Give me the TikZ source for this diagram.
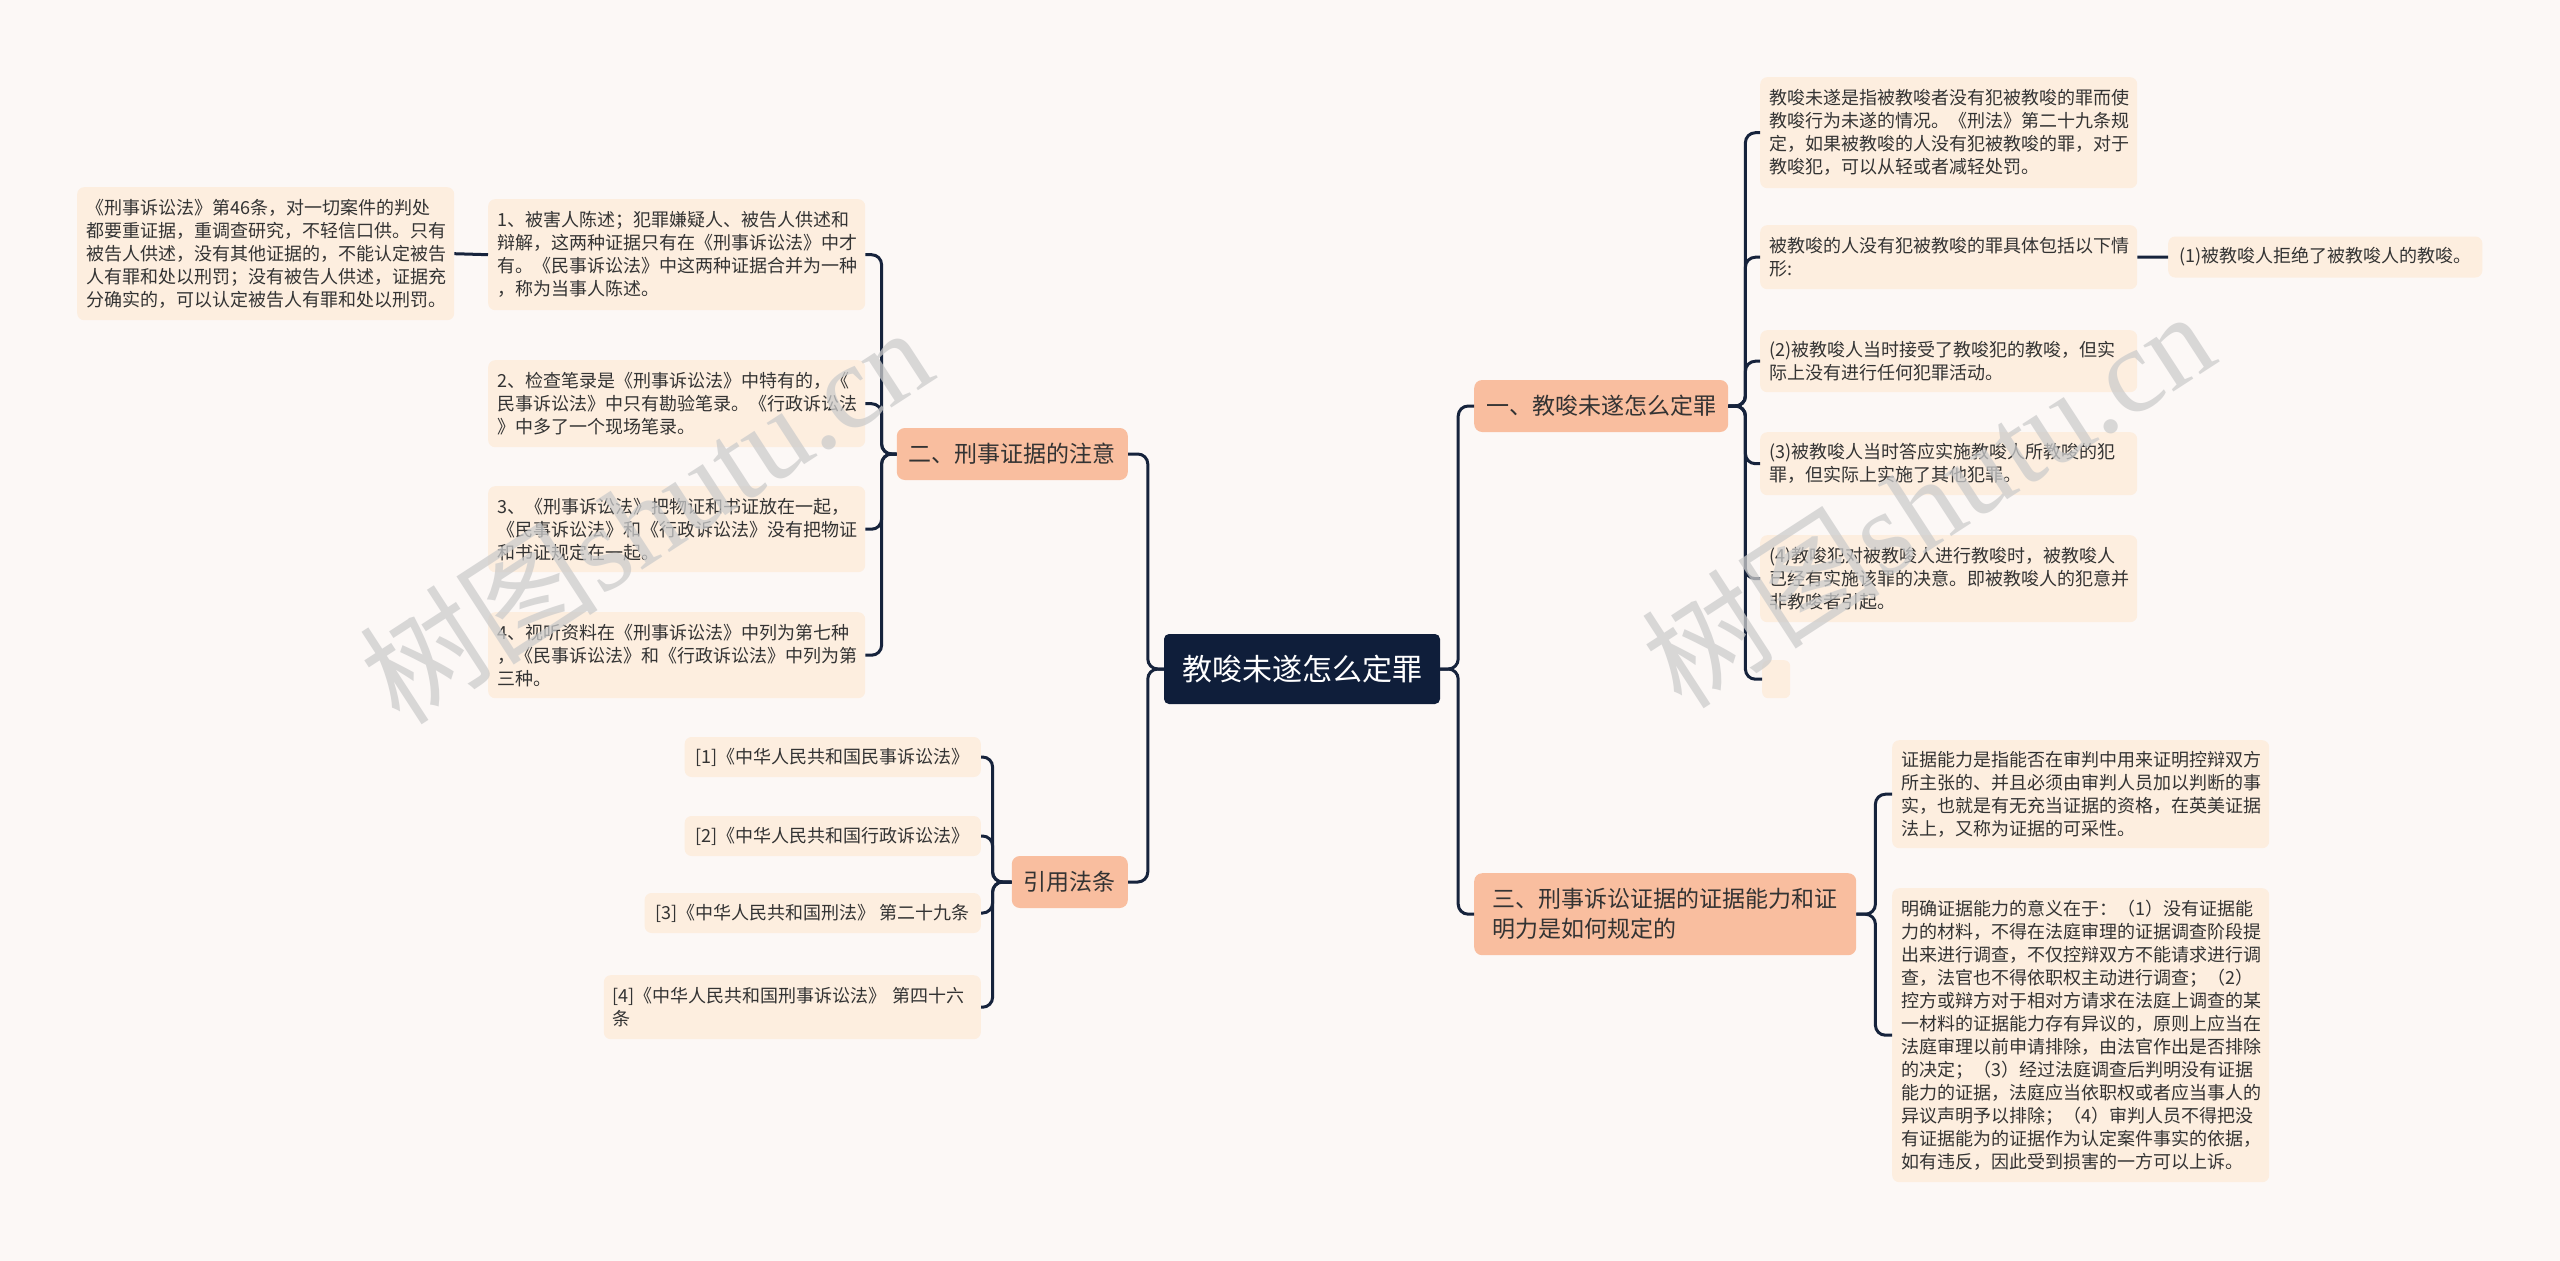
\documentclass[tikz,border=0pt]{standalone}
\usepackage{fontspec}
\setmainfont{Noto Sans CJK SC}
\newfontfamily\wmlatin{Liberation Serif}
\definecolor{bgc}{HTML}{FCF8F6}
\definecolor{leafc}{HTML}{FDEEDF}
\definecolor{brc}{HTML}{F9BE9F}
\definecolor{rootc}{HTML}{0F1E3A}
\definecolor{linec}{HTML}{16233C}
\definecolor{txtc}{HTML}{333333}
\begin{document}
\begin{tikzpicture}[x=1pt,y=-1pt,
 leaf/.style={fill=leafc, rounded corners=7pt, inner xsep=9pt, inner ysep=0pt, text width=359pt, align=left, text=txtc, font=\fontsize{18pt}{23pt}\selectfont, anchor=north west},
 refbox/.style={fill=leafc, rounded corners=7pt, inner xsep=11pt, inner ysep=0pt, minimum height=40pt, text=txtc, font=\fontsize{18pt}{23pt}\selectfont, anchor=east},
 branch/.style={fill=brc, rounded corners=8pt, inner xsep=12pt, inner ysep=0pt, minimum height=52pt, text=txtc, font=\fontsize{23pt}{30pt}\selectfont},
 rootbox/.style={fill=rootc, rounded corners=5pt, inner xsep=18pt, inner ysep=0pt, minimum height=70pt, text=white, font=\fontsize{30pt}{36pt}\selectfont},
 conn/.style={draw=linec, line width=3pt, rounded corners=10pt},
 wm/.style={rotate=33, text=black!20, opacity=0.75, inner sep=0pt, font=\fontsize{120pt}{120pt}\selectfont}]
\fill[bgc] (0,0) rectangle (2560,1261);
\useasboundingbox (0,0) rectangle (2560,1261);

% root and branches
\node[rootbox] (root) at (1302,669) {教唆未遂怎么定罪};
\node[branch, anchor=west] (b1) at (1474,406) {一、教唆未遂怎么定罪};
\node[branch, anchor=north west, minimum height=82pt, minimum width=382pt, align=left] (b3) at (1474,873) {三、刑事诉讼证据的证据能力和证\\明力是如何规定的};
\node[branch, anchor=east] (b2) at (1128,454) {二、刑事证据的注意};
\node[branch, anchor=east] (b4) at (1128,882) {引用法条};

% leaves of b2
\node[leaf, minimum height=133pt] (f) at (77,187) {《刑事诉讼法》第46条，对一切案件的判处\\都要重证据，重调查研究，不轻信口供。只有\\被告人供述，没有其他证据的，不能认定被告\\人有罪和处以刑罚；没有被告人供述，证据充\\分确实的，可以认定被告人有罪和处以刑罚。};
\node[leaf, minimum height=111pt] (l1) at (488,199) {1、被害人陈述；犯罪嫌疑人、被告人供述和\\辩解，这两种证据只有在《刑事诉讼法》中才\\有。《民事诉讼法》中这两种证据合并为一种\\，称为当事人陈述。};
\node[leaf, minimum height=87pt] (l2) at (488,360) {2、检查笔录是《刑事诉讼法》中特有的，《\\民事诉讼法》中只有勘验笔录。《行政诉讼法\\》中多了一个现场笔录。};
\node[leaf, minimum height=86pt] (l3) at (488,486) {3、《刑事诉讼法》把物证和书证放在一起，\\《民事诉讼法》和《行政诉讼法》没有把物证\\和书证规定在一起。};
\node[leaf, minimum height=86pt] (l4) at (488,612) {4、视听资料在《刑事诉讼法》中列为第七种\\，《民事诉讼法》和《行政诉讼法》中列为第\\三种。};

% leaves of b4
\node[refbox] (r1) at (981,757) {[1]《中华人民共和国民事诉讼法》};
\node[refbox] (r2) at (981,836) {[2]《中华人民共和国行政诉讼法》};
\node[refbox] (r3) at (981,913) {[3]《中华人民共和国刑法》 第二十九条};
\node[leaf, anchor=north east, minimum height=64pt] (r4) at (981,975) {[4]《中华人民共和国刑事诉讼法》 第四十六\\条};

% leaves of b1
\node[leaf, minimum height=111pt] (a1) at (1760,77) {教唆未遂是指被教唆者没有犯被教唆的罪而使\\教唆行为未遂的情况。《刑法》第二十九条规\\定，如果被教唆的人没有犯被教唆的罪，对于\\教唆犯，可以从轻或者减轻处罚。};
\node[leaf, minimum height=64pt] (a2) at (1760,225) {被教唆的人没有犯被教唆的罪具体包括以下情\\形:};
\node[refbox, anchor=west, minimum height=41pt] (a21) at (2168,257) {(1)被教唆人拒绝了被教唆人的教唆。};
\node[leaf, minimum height=62pt] (a3) at (1760,330) {(2)被教唆人当时接受了教唆犯的教唆，但实\\际上没有进行任何犯罪活动。};
\node[leaf, minimum height=63pt] (a4) at (1760,432) {(3)被教唆人当时答应实施教唆人所教唆的犯\\罪，但实际上实施了其他犯罪。};
\node[leaf, minimum height=87pt] (a5) at (1760,535) {(4)教唆犯对被教唆人进行教唆时，被教唆人\\已经有实施该罪的决意。即被教唆人的犯意并\\非教唆者引起。};
\node[fill=leafc, rounded corners=6pt, minimum width=28pt, minimum height=38pt, inner sep=0pt, anchor=north west] (a6) at (1762,660) {};

% leaves of b3
\node[leaf, minimum height=108pt] (c1) at (1892,740) {证据能力是指能否在审判中用来证明控辩双方\\所主张的、并且必须由审判人员加以判断的事\\实，也就是有无充当证据的资格，在英美证据\\法上，又称为证据的可采性。};
\node[leaf, minimum height=294pt] (c2) at (1892,888) {明确证据能力的意义在于：（1）没有证据能\\力的材料，不得在法庭审理的证据调查阶段提\\出来进行调查，不仅控辩双方不能请求进行调\\查，法官也不得依职权主动进行调查；（2）\\控方或辩方对于相对方请求在法庭上调查的某\\一材料的证据能力存有异议的，原则上应当在\\法庭审理以前申请排除，由法官作出是否排除\\的决定；（3）经过法庭调查后判明没有证据\\能力的证据，法庭应当依职权或者应当事人的\\异议声明予以排除；（4）审判人员不得把没\\有证据能为的证据作为认定案件事实的依据，\\如有违反，因此受到损害的一方可以上诉。};

% connectors
\draw[conn] (root.west) -- ++(-16,0) |- (b2.east);
\draw[conn] (root.west) -- ++(-16,0) |- (b4.east);
\draw[conn] (root.east) -- ++(18,0) |- (b1.west);
\draw[conn] (root.east) -- ++(18,0) |- (b3.west);
\foreach \c in {l1,l2,l3,l4} \draw[conn] (b2.west) -- ++(-15,0) |- (\c.east);
\draw[conn] (l1.west) -- (f.east);
\foreach \c in {r1,r2,r3,r4} \draw[conn] (b4.west) -- ++(-19,0) |- (\c.east);
\foreach \c in {a1,a2,a3,a4,a5,a6} \draw[conn] (b1.east) -- ++(17,0) |- (\c.west);
\draw[conn] (a2.east) -- (a21.west);
\foreach \c in {c1,c2} \draw[conn] (b3.east) -- ++(19,0) |- (\c.west);

% watermarks
\node[wm] (wm1) at (645,514) {树图\wmlatin shutu.cn};
\node[wm] (wm2) at (1927,498) {树图\wmlatin shutu.cn};
\end{tikzpicture}
\end{document}
